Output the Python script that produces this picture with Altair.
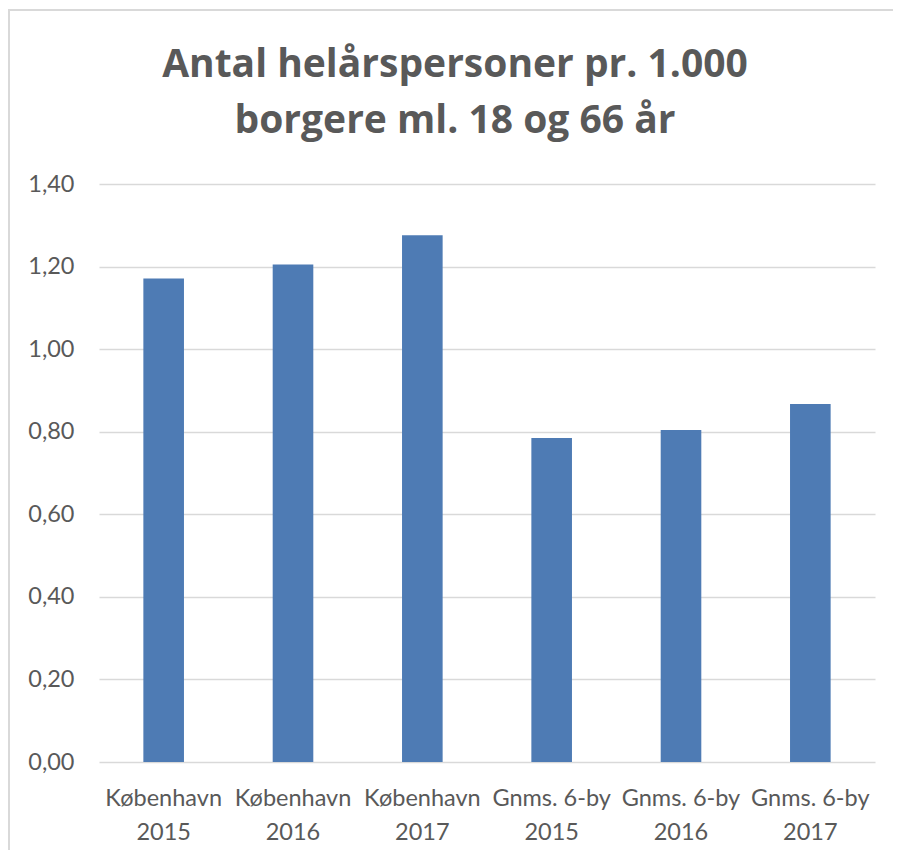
import altair as alt
import pandas as pd

places = ["København", "København", "København", "Gnms. 6-by", "Gnms. 6-by", "Gnms. 6-by"]
years = ["2015", "2016", "2017", "2015", "2016", "2017"]
values = [1.171, 1.205, 1.276, 0.785, 0.804, 0.867]
y_ticks = [0, 0.2, 0.4, 0.6, 0.8, 1.0, 1.2, 1.4]
title_lines = ["Antal helårspersoner pr. 1.000", "borgere ml. 18 og 66 år"]

cats = [f"{p}\n{y}" for p, y in zip(places, years)]
df = pd.DataFrame({"cat": cats, "value": values})

TEXT = "#595959"
GRID = "#D9D9D9"
FONT = "Lato"

frame = alt.Chart(pd.DataFrame({"a": [0]})).mark_rect(
    fillOpacity=0, stroke=GRID, strokeWidth=2
).encode(
    x=alt.value(-90), x2=alt.value(900), y=alt.value(-174), y2=alt.value(900)
)

bars = alt.Chart(df).mark_bar(color="#4E7BB4").encode(
    x=alt.X(
        "cat:N",
        sort=cats,
        scale=alt.Scale(paddingInner=0.686, paddingOuter=0.343),
        axis=alt.Axis(
            title=None, labelAngle=0, domain=False, ticks=False, tickSize=0,
            labelExpr="split(datum.label, '\\n')",
            labelFont=FONT, labelFontSize=23.5, labelColor=TEXT,
            labelLineHeight=34, labelPadding=24,
        ),
    ),
    y=alt.Y(
        "value:Q",
        scale=alt.Scale(domain=[0, 1.4], nice=False),
        axis=alt.Axis(
            title=None, values=y_ticks, domain=False, ticks=False, tickSize=0,
            labelExpr="replace(format(datum.value, '.2f'), '.', ',')",
            labelFont=FONT, labelFontSize=23.5, labelColor=TEXT, labelPadding=25,
            grid=True, gridColor=GRID, gridWidth=1.5,
        ),
    ),
)

chart = alt.layer(frame, bars).properties(
    width=776,
    height=578,
    title=alt.Title(
        title_lines, font="Open Sans", fontSize=39, fontWeight="bold", color=TEXT,
        lineHeight=56, anchor="middle", frame="group", offset=0,
        baseline="alphabetic", dx=-32, dy=163,
    ),
    autosize=alt.AutoSizeParams(type="none"),
    padding={"left": 91, "top": 176, "right": 18, "bottom": 88},
).configure(
    background="white",
    view=alt.ViewConfig(stroke=None),
)

chart.save("out.html", embed_options={"renderer": "svg", "actions": False})
